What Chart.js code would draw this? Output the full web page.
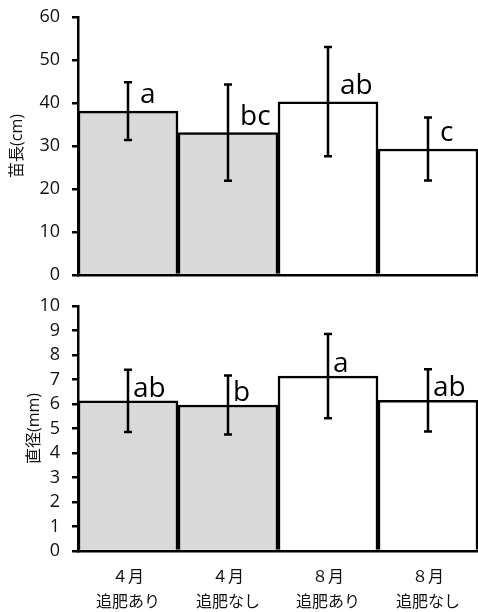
<!DOCTYPE html>
<html>
<head>
<meta charset="utf-8">
<script src="https://cdn.jsdelivr.net/npm/chart.js@4"></script>
<style>
  body { margin: 0; background: #fff; }
  .box { position: absolute; left: 0; width: 478px; }
</style>
</head>
<body>
<div class="box" style="top:0;height:290px"><canvas id="chartHeight"></canvas></div>
<div class="box" style="top:290px;height:322px"><canvas id="chartDiam"></canvas></div>
<script>
const categories = [['４月', '追肥あり'], ['４月', '追肥なし'], ['８月', '追肥あり'], ['８月', '追肥なし']];
const barColors = ['#d9d9d9', '#d9d9d9', '#ffffff', '#ffffff'];

// 苗長 (cm)
const heightMean = [38.1, 33.1, 40.3, 29.3];
const heightErr = [6.7, 11.2, 12.7, 7.3];
const heightLetters = ['a', 'bc', 'ab', 'c'];

// 直径 (mm)
const diamMean = [6.13, 5.96, 7.14, 6.15];
const diamErr = [1.27, 1.2, 1.72, 1.27];
const diamLetters = ['ab', 'b', 'a', 'ab'];

const FONT = "'Open Sans', 'Noto Sans CJK JP', sans-serif";

// error bars + letters
const errPlugin = {
  id: 'errbars',
  afterDatasetsDraw(chart, args, opts) {
    const ctx = chart.ctx;
    const y = chart.scales.y;
    const bars = chart.getDatasetMeta(0).data;
    ctx.save();
    ctx.strokeStyle = '#000';
    ctx.lineWidth = 2.5;
    bars.forEach((bar, i) => {
      const m = opts.mean[i], e = opts.err[i];
      const top = y.getPixelForValue(m + e);
      const bot = y.getPixelForValue(m - e);
      ctx.beginPath();
      ctx.moveTo(bar.x, top); ctx.lineTo(bar.x, bot);
      ctx.moveTo(bar.x - 4, top); ctx.lineTo(bar.x + 4, top);
      ctx.moveTo(bar.x - 4, bot); ctx.lineTo(bar.x + 4, bot);
      ctx.stroke();
      ctx.fillStyle = '#000';
      ctx.font = '28px ' + FONT;
      ctx.textAlign = 'left';
      ctx.textBaseline = 'alphabetic';
      ctx.fillText(opts.letters[i], bar.x + opts.dx, bar.y - opts.dy);
    });
    ctx.restore();
  }
};

function makeChart(id, mean, err, letters, max, step, title, titlePad, showX, xHeight, padTop, dx, dy) {
  return new Chart(document.getElementById(id), {
    type: 'bar',
    data: {
      labels: categories,
      datasets: [{
        data: mean,
        backgroundColor: barColors,
        borderColor: '#000',
        borderWidth: 2.5,
        categoryPercentage: 1,
        barPercentage: 1
      }]
    },
    options: {
      responsive: true,
      maintainAspectRatio: false,
      animation: false,
      layout: { padding: { top: padTop, right: 0, left: 0, bottom: 0 } },
      plugins: {
        legend: { display: false },
        tooltip: { enabled: false },
        errbars: { mean: mean, err: err, letters: letters, dx: dx, dy: dy }
      },
      scales: {
        x: {
          grid: { display: true, drawOnChartArea: false, drawTicks: false },
          border: { display: true, color: '#000', width: 2.5 },
          ticks: {
            display: showX,
            color: '#111',
            padding: 14,
            font: { family: FONT, size: 16, lineHeight: 1.55 }
          },
          afterFit(s) { s.height = xHeight; }
        },
        y: {
          min: 0,
          max: max,
          grid: { drawOnChartArea: false, drawTicks: true, tickLength: 6, color: '#000', lineWidth: 2.5 },
          border: { display: true, color: '#000', width: 2.5 },
          ticks: {
            stepSize: step,
            autoSkip: false,
            color: '#111',
            padding: 12,
            font: { family: FONT, size: 18 }
          },
          title: {
            display: true,
            text: title,
            color: '#111',
            padding: { top: titlePad, bottom: 0 },
            font: { family: FONT, size: 16 }
          },
          afterFit(s) {
            s.width = 78;
            s.paddingTop = 0;
            s.paddingBottom = 0;
          }
        }
      }
    },
    plugins: [errPlugin]
  });
}

makeChart('chartHeight', heightMean, heightErr, heightLetters, 60, 10, '苗長(cm)', 8, false, 15, 17, 12, 8);
makeChart('chartDiam', diamMean, diamErr, diamLetters, 10, 1, '直径(mm)', 25, true, 61, 16, 5, 4);
</script>
</body>
</html>
